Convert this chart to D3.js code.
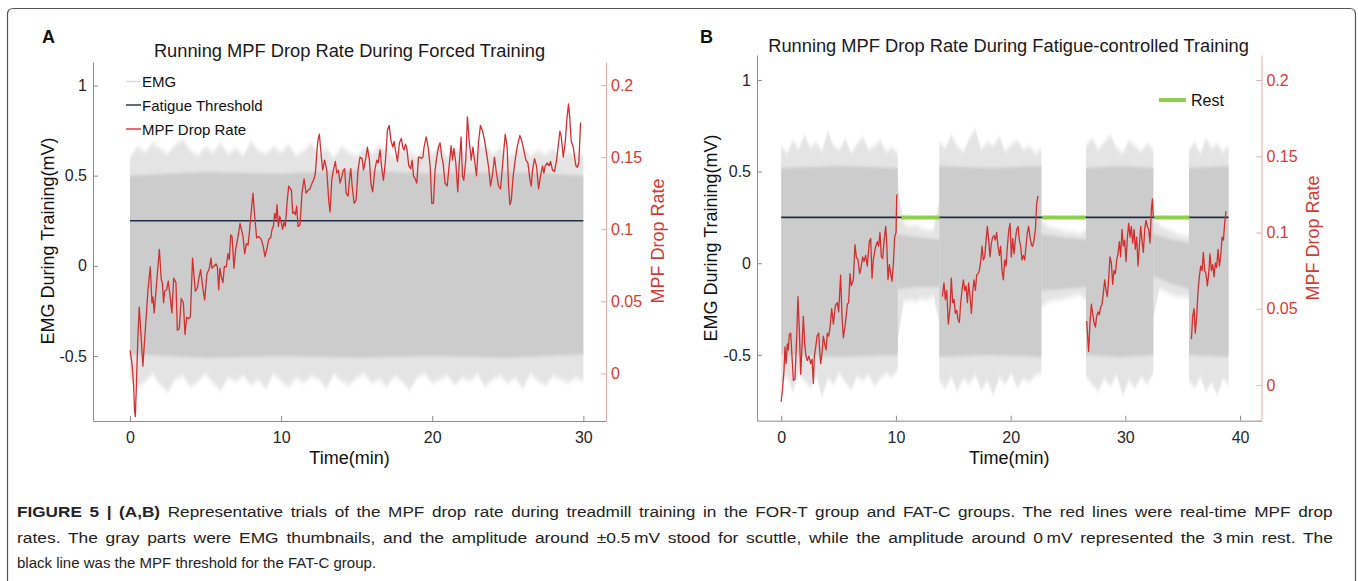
<!DOCTYPE html>
<html>
<head>
<meta charset="utf-8">
<title>Figure 5</title>
<script src="https://cdn.jsdelivr.net/npm/d3@7/dist/d3.min.js"></script>
<style>
  html, body { margin: 0; padding: 0; background: #ffffff; }
  #chart svg { display: block; }
</style>
</head>
<body>
<div id="chart"></div>
<script>
const width = 1358;
const height = 581;
const font = '"Liberation Sans", Arial, Helvetica, sans-serif';

// ---------- Panel A : forced training ----------
// MPF drop rate, [minute, rate]
const mpfA = [
  [0.00,0.016],[0.13,0.007],[0.24,-0.009],[0.30,-0.026],[0.35,-0.030],[0.41,-0.012],[0.52,0.025],[0.61,0.046],[0.74,0.025],[0.85,0.005],
  [1.01,0.030],[1.19,0.058],[1.34,0.074],[1.45,0.049],[1.52,0.053],[1.60,0.042],[1.74,0.060],[1.94,0.086],[2.07,0.065],[2.14,0.063],
  [2.22,0.049],[2.29,0.057],[2.42,0.058],[2.53,0.064],[2.66,0.053],[2.77,0.042],[2.89,0.066],[3.04,0.063],[3.13,0.030],[3.26,0.031],
  [3.39,0.052],[3.53,0.049],[3.64,0.027],[3.75,0.039],[3.88,0.038],[3.99,0.039],[4.14,0.080],[4.32,0.057],[4.45,0.059],[4.54,0.065],
  [4.67,0.072],[4.81,0.060],[4.94,0.051],[5.09,0.069],[5.25,0.073],[5.36,0.080],[5.42,0.073],[5.53,0.074],[5.69,0.076],[5.78,0.074],
  [5.87,0.058],[5.95,0.073],[6.04,0.067],[6.15,0.063],[6.24,0.074],[6.37,0.074],[6.48,0.083],[6.57,0.079],[6.66,0.096],[6.75,0.095],
  [6.88,0.073],[6.99,0.086],[7.15,0.095],[7.28,0.104],[7.37,0.100],[7.48,0.095],[7.59,0.083],[7.70,0.090],[7.81,0.089],[7.92,0.100],
  [8.03,0.113],[8.14,0.125],[8.25,0.109],[8.38,0.094],[8.52,0.095],[8.69,0.093],[8.82,0.088],[8.93,0.081],[9.07,0.087],[9.18,0.093],
  [9.31,0.094],[9.40,0.100],[9.49,0.102],[9.57,0.111],[9.66,0.107],[9.73,0.117],[9.82,0.102],[9.91,0.109],[10.02,0.104],[10.10,0.100],
  [10.19,0.105],[10.28,0.102],[10.39,0.118],[10.50,0.130],[10.68,0.127],[10.77,0.111],[10.85,0.112],[10.94,0.110],[11.03,0.116],[11.12,0.102],
  [11.25,0.103],[11.38,0.125],[11.52,0.135],[11.65,0.125],[11.78,0.127],[11.91,0.128],[12.05,0.132],[12.18,0.135],[12.27,0.139],[12.36,0.153],
  [12.44,0.162],[12.53,0.166],[12.62,0.155],[12.75,0.141],[12.88,0.148],[13.02,0.141],[13.15,0.120],[13.24,0.112],[13.35,0.134],[13.46,0.141],
  [13.59,0.147],[13.68,0.139],[13.79,0.141],[13.90,0.132],[14.03,0.137],[14.12,0.141],[14.21,0.142],[14.30,0.125],[14.43,0.123],[14.52,0.134],
  [14.61,0.142],[14.70,0.130],[14.83,0.118],[14.96,0.120],[15.09,0.141],[15.22,0.150],[15.36,0.149],[15.45,0.141],[15.58,0.148],[15.71,0.157],
  [15.84,0.148],[15.95,0.131],[16.06,0.126],[16.20,0.141],[16.33,0.148],[16.42,0.146],[16.55,0.155],[16.66,0.142],[16.77,0.134],[16.90,0.147],
  [17.04,0.169],[17.15,0.172],[17.26,0.162],[17.39,0.157],[17.48,0.161],[17.56,0.155],[17.70,0.147],[17.83,0.160],[17.96,0.163],[18.05,0.157],
  [18.14,0.155],[18.23,0.159],[18.32,0.156],[18.45,0.144],[18.58,0.142],[18.67,0.148],[18.76,0.137],[18.87,0.135],[18.98,0.132],[19.09,0.150],
  [19.20,0.150],[19.29,0.149],[19.38,0.150],[19.46,0.157],[19.60,0.164],[19.73,0.157],[19.86,0.144],[19.97,0.118],[20.08,0.118],[20.19,0.141],
  [20.30,0.150],[20.41,0.157],[20.52,0.160],[20.63,0.150],[20.72,0.146],[20.85,0.132],[20.99,0.130],[21.12,0.144],[21.25,0.158],[21.34,0.148],
  [21.43,0.156],[21.56,0.146],[21.69,0.126],[21.78,0.144],[21.91,0.164],[22.00,0.137],[22.09,0.134],[22.22,0.148],[22.33,0.178],[22.44,0.162],
  [22.58,0.148],[22.69,0.157],[22.80,0.148],[22.93,0.137],[23.06,0.160],[23.19,0.172],[23.33,0.168],[23.46,0.162],[23.59,0.153],[23.72,0.144],
  [23.86,0.130],[23.99,0.138],[24.12,0.150],[24.25,0.139],[24.39,0.130],[24.52,0.128],[24.70,0.150],[24.83,0.166],[24.96,0.157],[25.05,0.130],
  [25.14,0.117],[25.23,0.120],[25.36,0.137],[25.49,0.148],[25.62,0.157],[25.80,0.165],[25.93,0.161],[26.06,0.155],[26.20,0.148],[26.33,0.146],
  [26.46,0.135],[26.55,0.130],[26.64,0.141],[26.77,0.149],[26.90,0.144],[27.04,0.128],[27.17,0.137],[27.30,0.144],[27.39,0.139],[27.48,0.144],
  [27.61,0.146],[27.74,0.144],[27.83,0.147],[27.96,0.141],[28.09,0.140],[28.23,0.148],[28.36,0.160],[28.45,0.168],[28.54,0.164],[28.67,0.150],
  [28.80,0.160],[28.91,0.176],[29.02,0.187],[29.11,0.176],[29.20,0.161],[29.33,0.157],[29.42,0.150],[29.51,0.144],[29.60,0.143],[29.70,0.146],
  [29.82,0.174]
];

// EMG envelope for A (mV): outer spikes every 0.5 min, core band coarser
const emgABounds = [0, 30];
const emgAHi = [
  0.60,0.66,0.63,0.68,0.65,0.62,0.67,0.70,0.64,0.61,
  0.66,0.63,0.68,0.62,0.65,0.61,0.69,0.64,0.62,0.66,
  0.63,0.67,0.61,0.64,0.68,0.62,0.65,0.60,0.66,0.63,
  0.61,0.65,0.62,0.67,0.64,0.60,0.66,0.63,0.61,0.64,
  0.62,0.66,0.60,0.65,0.63,0.61,0.64,0.67,0.62,0.65,
  0.60,0.63,0.66,0.61,0.64,0.62,0.65,0.60,0.63,0.61,0.62
];
const emgALo = [
  -0.62,-0.68,-0.64,-0.60,-0.66,-0.70,-0.63,-0.61,-0.67,-0.64,
  -0.60,-0.65,-0.69,-0.62,-0.64,-0.61,-0.66,-0.63,-0.68,-0.60,
  -0.64,-0.67,-0.62,-0.65,-0.61,-0.63,-0.68,-0.60,-0.64,-0.66,
  -0.62,-0.60,-0.65,-0.63,-0.67,-0.61,-0.64,-0.69,-0.62,-0.60,
  -0.65,-0.63,-0.61,-0.66,-0.62,-0.64,-0.60,-0.67,-0.63,-0.61,
  -0.65,-0.62,-0.68,-0.60,-0.64,-0.66,-0.61,-0.63,-0.65,-0.62,-0.64
];
const emgACoreHi = [0.50, 0.52, 0.51, 0.53, 0.51, 0.52, 0.50];
const emgACoreLo = [-0.49, -0.51, -0.50, -0.51, -0.50, -0.51, -0.49];

// ---------- Panel B : fatigue-controlled training ----------
const mpfB1 = [
  [0.00,-0.011],[0.13,-0.001],[0.24,0.009],[0.33,0.025],[0.42,0.014],[0.54,0.027],[0.62,0.023],[0.71,0.033],[0.83,0.034],[0.91,0.023],
  [1.06,0.003],[1.20,0.004],[1.35,0.032],[1.46,0.058],[1.58,0.036],[1.70,0.007],[1.81,0.025],[1.93,0.045],[2.05,0.027],[2.16,0.019],
  [2.28,0.016],[2.42,0.019],[2.57,0.014],[2.69,0.017],[2.80,0.001],[2.89,0.019],[3.01,0.025],[3.12,0.032],[3.27,0.034],[3.35,0.023],
  [3.44,0.014],[3.56,0.021],[3.67,0.032],[3.79,0.027],[3.91,0.023],[4.02,0.034],[4.14,0.032],[4.26,0.038],[4.40,0.050],[4.55,0.040],
  [4.72,0.052],[4.89,0.054],[5.01,0.048],[5.18,0.072],[5.30,0.045],[5.42,0.031],[5.59,0.040],[5.77,0.053],[5.88,0.054],[6.00,0.073],
  [6.11,0.065],[6.29,0.069],[6.43,0.092],[6.55,0.084],[6.70,0.082],[6.84,0.073],[6.96,0.077],[7.10,0.084],[7.22,0.081],[7.36,0.085],
  [7.51,0.078],[7.68,0.094],[7.80,0.096],[7.92,0.070],[8.03,0.082],[8.21,0.090],[8.38,0.094],[8.50,0.091],[8.61,0.100],[8.73,0.084],
  [8.85,0.083],[8.96,0.094],[9.11,0.104],[9.20,0.093],[9.31,0.069],[9.43,0.079],[9.54,0.073],[9.66,0.068],[9.78,0.080],[9.89,0.097],
  [10.01,0.100],[10.07,0.124],[10.12,0.125]
];
const mpfB2 = [
  [14.05,0.058],[14.19,0.067],[14.31,0.056],[14.43,0.062],[14.57,0.040],[14.72,0.051],[14.83,0.070],[14.95,0.054],[15.07,0.056],[15.18,0.047],
  [15.30,0.049],[15.41,0.043],[15.53,0.041],[15.65,0.054],[15.76,0.062],[15.88,0.069],[16.00,0.062],[16.11,0.065],[16.23,0.054],[16.34,0.067],
  [16.46,0.058],[16.58,0.047],[16.69,0.061],[16.81,0.069],[16.93,0.062],[17.04,0.072],[17.16,0.073],[17.27,0.075],[17.39,0.081],[17.51,0.091],
  [17.62,0.082],[17.74,0.084],[17.86,0.095],[17.97,0.104],[18.09,0.095],[18.20,0.084],[18.32,0.093],[18.44,0.097],[18.55,0.098],[18.67,0.095],
  [18.78,0.100],[18.90,0.091],[19.02,0.085],[19.13,0.091],[19.25,0.075],[19.37,0.069],[19.48,0.082],[19.60,0.078],[19.72,0.091],[19.83,0.101],
  [19.95,0.106],[20.06,0.084],[20.18,0.096],[20.30,0.086],[20.41,0.095],[20.53,0.102],[20.65,0.104],[20.76,0.095],[20.88,0.091],[20.99,0.082],
  [21.11,0.085],[21.23,0.082],[21.34,0.091],[21.46,0.100],[21.57,0.104],[21.69,0.097],[21.81,0.092],[21.92,0.091],[22.04,0.095],[22.16,0.102],
  [22.27,0.119],[22.39,0.124]
];
const mpfB3 = [
  [26.63,0.042],[26.80,0.022],[26.92,0.041],[27.04,0.053],[27.15,0.047],[27.27,0.041],[27.39,0.038],[27.50,0.045],[27.62,0.048],[27.73,0.046],
  [27.85,0.051],[27.97,0.053],[28.08,0.060],[28.20,0.069],[28.32,0.062],[28.43,0.058],[28.55,0.070],[28.66,0.084],[28.78,0.080],[28.90,0.066],
  [29.01,0.075],[29.13,0.073],[29.25,0.082],[29.36,0.086],[29.48,0.094],[29.59,0.084],[29.71,0.102],[29.83,0.091],[29.94,0.095],[30.06,0.081],
  [30.18,0.097],[30.29,0.106],[30.41,0.097],[30.52,0.104],[30.64,0.093],[30.76,0.102],[30.87,0.089],[30.99,0.097],[31.11,0.078],[31.22,0.091],
  [31.34,0.104],[31.45,0.095],[31.57,0.087],[31.69,0.102],[31.80,0.108],[31.92,0.104],[32.04,0.102],[32.15,0.093],[32.27,0.115],[32.36,0.122],
  [32.44,0.110]
];
const mpfB4 = [
  [35.76,0.030],[35.87,0.045],[35.99,0.050],[36.10,0.034],[36.22,0.045],[36.34,0.062],[36.45,0.071],[36.57,0.078],[36.69,0.075],[36.80,0.087],
  [36.92,0.075],[37.03,0.073],[37.15,0.065],[37.27,0.073],[37.38,0.086],[37.50,0.075],[37.62,0.079],[37.73,0.071],[37.85,0.080],[37.96,0.077],
  [38.08,0.089],[38.20,0.078],[38.31,0.084],[38.43,0.097],[38.55,0.095],[38.66,0.106],[38.78,0.114]
];

// EMG for B: run / rest phases, envelope samples spread evenly inside each phase
const emgBBounds = [0, 10.16, 13.78, 22.68, 26.57, 32.44, 35.55, 39.0];
const emgBHi = [
  [0.64,0.60,0.67,0.62,0.70,0.63,0.66,0.61,0.72,0.64,0.62,0.68,0.60,0.65,0.69,0.62,0.64,0.67,0.61,0.63,0.60],
  [0.42,0.22,0.20,0.21,0.19,0.18,0.18,0.34],
  [0.66,0.63,0.70,0.64,0.61,0.68,0.73,0.62,0.66,0.64,0.69,0.61,0.65,0.67,0.62,0.64,0.60,0.62],
  [0.24,0.20,0.19,0.18,0.17,0.17,0.16,0.18],
  [0.64,0.68,0.62,0.66,0.70,0.63,0.60,0.67,0.64,0.61,0.65,0.62],
  [0.24,0.21,0.19,0.18,0.16,0.15,0.15],
  [0.62,0.66,0.60,0.68,0.63,0.65,0.61,0.64]
];
const emgBLo = [
  [-0.66,-0.62,-0.70,-0.60,-0.64,-0.68,-0.61,-0.73,-0.63,-0.66,-0.60,-0.65,-0.69,-0.62,-0.64,-0.61,-0.67,-0.63,-0.60,-0.62,-0.58],
  [-0.42,-0.21,-0.20,-0.21,-0.19,-0.20,-0.18,-0.32],
  [-0.64,-0.68,-0.62,-0.70,-0.63,-0.66,-0.61,-0.69,-0.64,-0.72,-0.62,-0.66,-0.60,-0.68,-0.63,-0.65,-0.61,-0.60],
  [-0.24,-0.21,-0.20,-0.20,-0.19,-0.18,-0.17,-0.20],
  [-0.62,-0.66,-0.70,-0.63,-0.67,-0.61,-0.72,-0.64,-0.68,-0.62,-0.66,-0.60],
  [-0.30,-0.14,-0.15,-0.17,-0.18,-0.18,-0.19],
  [-0.64,-0.68,-0.62,-0.70,-0.65,-0.72,-0.63,-0.66]
];
const emgBCoreHi = [[0.52,0.53,0.52],[0.16,0.14,0.13],[0.53,0.52,0.53],[0.16,0.14,0.13],[0.52,0.53,0.52],[0.16,0.13,0.11],[0.52,0.53]];
const emgBCoreLo = [[-0.50,-0.51,-0.50],[-0.14,-0.13,-0.13],[-0.51,-0.50,-0.51],[-0.15,-0.14,-0.13],[-0.50,-0.51,-0.50],[-0.07,-0.11,-0.14],[-0.50,-0.51]];

const restStart = [10.48, 22.76, 32.53];
const restEnd = [13.79, 26.53, 35.58];
const threshold = 0.25;

const leftTicks = [-0.5, 0, 0.5, 1];
const rightTicks = [0, 0.05, 0.1, 0.15, 0.2];
const timeTicksA = [0, 10, 20, 30];
const timeTicksB = [0, 10, 20, 30, 40];

// colours
const emgOuter = "#e4e4e4";
const emgCore = "#cccccc";
const navy = "#1c2e45";
const red = "#d42f2f";
const green = "#8fcf4c";

const svg = d3.create("svg")
    .attr("width", width)
    .attr("height", height)
    .attr("viewBox", `0 0 ${width} ${height}`)
    .style("font-family", font)
    .style("background", "#fff");
document.getElementById("chart").appendChild(svg.node());

// soft vertical blur that turns the envelope edges into a haze
const defs = svg.append("defs");
defs.append("filter").attr("id", "haze").attr("x", "-2%").attr("y", "-10%").attr("width", "104%").attr("height", "120%")
  .append("feGaussianBlur").attr("stdDeviation", "0.5 2.5");
defs.append("filter").attr("id", "hazeCore").attr("x", "-2%").attr("y", "-10%").attr("width", "104%").attr("height", "120%")
  .append("feGaussianBlur").attr("stdDeviation", "0.3 1.5");

// outer frame of the figure (continues below the crop)
svg.append("path")
    .attr("d", `M7.5,${height + 10}V14.5Q7.5,8.5 13.5,8.5H1349.5Q1355.5,8.5 1355.5,14.5V${height + 10}`)
    .attr("fill", "none")
    .attr("stroke", "#555")
    .attr("stroke-width", 1.2);

function spread(t0, t1, vals) {
  return vals.map((v, i) => [t0 + i * (t1 - t0) / (vals.length - 1), v]);
}

function drawPanel(cfg) {
  const g = svg.append("g");
  const x = d3.scaleLinear().domain(cfg.xDomain).range([cfg.left, cfg.right]);
  const y = d3.scaleLinear().domain(cfg.yDomain).range([cfg.bottom, cfg.top]);
  const y2 = d3.scaleLinear().domain(cfg.y2Domain).range([cfg.bottom, cfg.top]);

  // EMG band
  const area = d3.area().x(d => x(d[0])).y0(d => y(d[2])).y1(d => y(d[1]));
  const outer = [], core = [];
  cfg.bounds.slice(0, -1).forEach((t0, i) => {
    const t1 = cfg.bounds[i + 1];
    const hi = spread(t0, t1, cfg.hi[i]), lo = spread(t0, t1, cfg.lo[i]);
    outer.push(hi.map((d, j) => [d[0], d[1], lo[j][1]]));
    const ch = spread(t0, t1, cfg.coreHi[i]), cl = spread(t0, t1, cfg.coreLo[i]);
    core.push(ch.map((d, j) => [d[0], d[1], cl[j][1]]));
  });
  g.append("g").attr("filter", "url(#haze)")
    .selectAll("path").data(outer).join("path")
      .attr("d", area).attr("fill", emgOuter);
  g.append("g").attr("filter", "url(#hazeCore)")
    .selectAll("path").data(core).join("path")
      .attr("d", area).attr("fill", emgCore);

  // fatigue threshold
  g.append("line")
      .attr("x1", x(0)).attr("x2", x(cfg.thresholdEnd))
      .attr("y1", y(threshold)).attr("y2", y(threshold))
      .attr("stroke", navy).attr("stroke-width", 1.6);

  // rest periods
  if (cfg.rest) {
    g.append("g").selectAll("line").data(d3.zip(restStart, restEnd)).join("line")
        .attr("x1", d => x(d[0])).attr("x2", d => x(d[1]))
        .attr("y1", y(threshold)).attr("y2", y(threshold))
        .attr("stroke", green).attr("stroke-width", 4);
  }

  // MPF drop rate
  const line = d3.line().x(d => x(d[0])).y(d => y2(d[1]));
  g.append("g").selectAll("path").data(cfg.mpf).join("path")
      .attr("d", line).attr("fill", "none")
      .attr("stroke", red).attr("stroke-width", 1.3).attr("stroke-linejoin", "round");

  // axes
  const styleAxis = (sel, lineColor, textColor) => {
    sel.attr("font-family", font).attr("font-size", 16);
    sel.select(".domain").attr("stroke", lineColor);
    sel.selectAll(".tick line").attr("stroke", lineColor);
    sel.selectAll(".tick text").attr("fill", textColor);
  };
  g.append("g").attr("transform", `translate(${cfg.left},0)`)
      .call(d3.axisLeft(y).tickValues(leftTicks).tickFormat(String).tickSizeInner(-5).tickSizeOuter(0).tickPadding(6))
      .call(s => styleAxis(s, "#8c8c8c", "#262626"));
  g.append("g").attr("transform", `translate(0,${cfg.bottom})`)
      .call(d3.axisBottom(x).tickValues(cfg.timeTicks).tickFormat(String).tickSizeInner(-5).tickSizeOuter(0).tickPadding(11))
      .call(s => styleAxis(s, "#8c8c8c", "#262626"));
  g.append("g").attr("transform", `translate(${cfg.right},0)`)
      .call(d3.axisRight(y2).tickValues(rightTicks).tickFormat(String).tickSizeInner(-5).tickSizeOuter(0).tickPadding(5))
      .call(s => styleAxis(s, "#eba8a8", "#d63a32"));

  // titles and labels
  g.append("text").attr("x", cfg.letterX).attr("y", cfg.letterY)
      .attr("font-size", 18).attr("font-weight", "bold").attr("fill", "#111").text(cfg.letter);
  g.append("text").attr("x", cfg.titleX).attr("y", cfg.titleY).attr("text-anchor", "middle")
      .attr("font-size", 18.3).attr("fill", "#1a1a1a").text(cfg.title);
  g.append("text").attr("x", (cfg.left + cfg.right) / 2).attr("y", cfg.bottom + 43).attr("text-anchor", "middle")
      .attr("font-size", 18).attr("fill", "#111").text("Time(min)");
  g.append("text").attr("transform", `translate(${cfg.yLabelX},${cfg.labelY}) rotate(-90)`).attr("text-anchor", "middle")
      .attr("font-size", 18).attr("fill", "#111").text("EMG During Training(mV)");
  g.append("text").attr("transform", `translate(${cfg.y2LabelX},${cfg.labelY}) rotate(-90)`).attr("text-anchor", "middle")
      .attr("font-size", 18).attr("fill", "#d63a32").text("MPF Drop Rate");
  return g;
}

// Panel A
const gA = drawPanel({
  letter: "A", letterX: 42, letterY: 43,
  title: "Running MPF Drop Rate During Forced Training", titleX: 349.5, titleY: 57,
  left: 93, right: 606, top: 62, bottom: 421,
  xDomain: [-2.45, 31.5], yDomain: [-0.86, 1.13], y2Domain: [-0.033, 0.216],
  bounds: emgABounds, hi: [emgAHi], lo: [emgALo], coreHi: [emgACoreHi], coreLo: [emgACoreLo],
  mpf: [mpfA], thresholdEnd: 30, rest: false, timeTicks: timeTicksA,
  yLabelX: 54, y2LabelX: 663.5, labelY: 241
});

// Panel A legend
const legA = gA.append("g").attr("font-size", 15).attr("fill", "#111");
[["EMG", "#dcdcdc", 81.5], ["Fatigue Threshold", navy, 105], ["MPF Drop Rate", red, 129]].forEach(([name, c, yy]) => {
  legA.append("line").attr("x1", 126).attr("x2", 141).attr("y1", yy).attr("y2", yy)
      .attr("stroke", c).attr("stroke-width", 1.4);
  legA.append("text").attr("x", 142).attr("y", yy + 5.5).text(name);
});

// Panel B
const gB = drawPanel({
  letter: "B", letterX: 700, letterY: 42.5,
  title: "Running MPF Drop Rate During Fatigue-controlled Training", titleX: 1008.5, titleY: 51.5,
  left: 757, right: 1261.5, top: 55, bottom: 420.7,
  xDomain: [-2.11, 41.87], yDomain: [-0.859, 1.136], y2Domain: [-0.0234, 0.2164],
  bounds: emgBBounds, hi: emgBHi, lo: emgBLo, coreHi: emgBCoreHi, coreLo: emgBCoreLo,
  mpf: [mpfB1, mpfB2, mpfB3, mpfB4], thresholdEnd: 39, rest: true, timeTicks: timeTicksB,
  yLabelX: 717, y2LabelX: 1319, labelY: 238
});

gB.append("line").attr("x1", 1159).attr("x2", 1186).attr("y1", 100).attr("y2", 100)
    .attr("stroke", green).attr("stroke-width", 4);
gB.append("text").attr("x", 1191).attr("y", 106).attr("font-size", 16).attr("fill", "#111").text("Rest");

// caption: the first two lines fill the column, the last one keeps its natural width
const caption = [
  [["FIGURE 5 | (A,B)", true], [" Representative trials of the MPF drop rate during treadmill training in the FOR-T group and FAT-C groups. The red lines were real-time MPF drop", false]],
  [["rates. The gray parts were EMG thumbnails, and the amplitude around \u00b10.5\u2009mV stood for scuttle, while the amplitude around 0\u2009mV represented the 3\u2009min rest. The", false]],
  [["black line was the MPF threshold for the FAT-C group.", false]]
];
const columnWidth = 1317;
caption.forEach((parts, i) => {
  const t = svg.append("text")
      .attr("x", 0).attr("y", 0)
      .attr("font-size", 15).attr("fill", "#222");
  parts.forEach(([s, b]) => t.append("tspan").attr("font-weight", b ? "bold" : null).text(s));
  let sx = 1;
  if (i < 2) {
    t.attr("word-spacing", 2.5);
    sx = columnWidth / t.node().getComputedTextLength();
  }
  t.attr("transform", `translate(17,${517 + i * 25.5}) scale(${sx},1)`);
});
</script>
</body>
</html>
